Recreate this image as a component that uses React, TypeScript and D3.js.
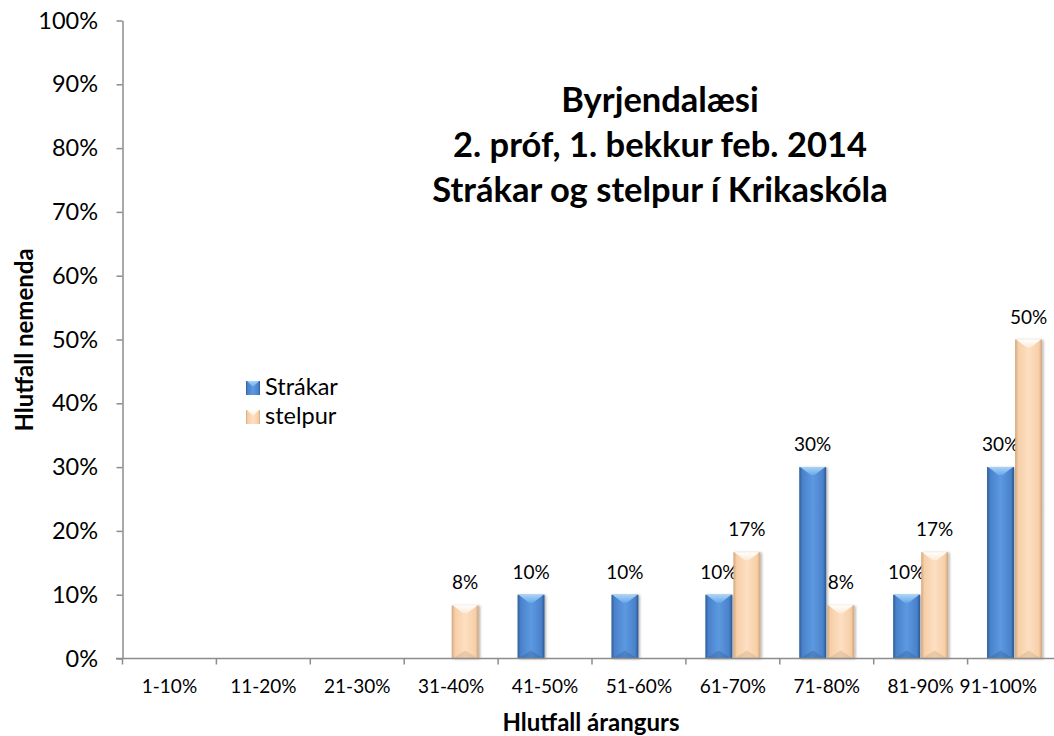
import React, { useEffect, useRef } from 'react';
import * as d3 from 'd3';

const categories = ['1-10%', '11-20%', '21-30%', '31-40%', '41-50%', '51-60%', '61-70%', '71-80%', '81-90%', '91-100%'];
const seriesNames = ['Strákar', 'stelpur'];
const strakar = [0, 0, 0, 0, 10, 10, 10, 30, 10, 30];
const stelpur = [0, 0, 0, 8.33, 0, 0, 16.67, 8.33, 16.67, 50];
const yTicks = [0, 10, 20, 30, 40, 50, 60, 70, 80, 90, 100];
const titleLines = ['Byrjendalæsi', '2. próf, 1. bekkur feb. 2014', 'Strákar og stelpur í Krikaskóla'];
const xTitle = 'Hlutfall árangurs';
const yTitle = 'Hlutfall nemenda';

const palette = {
    'Strákar': { stops: ['#2f5d97', '#4a82cb', '#5c99e0', '#4a82cb', '#2c5890'], top: ['#a6d3f8', '#6aa8ea'], bottom: '#24497a' },
    'stelpur': { stops: ['#d2a77e', '#f6cfa8', '#fddfc2', '#f6cfa8', '#cfa37a'], top: ['#ffffff', '#fde9d5'], bottom: '#b98b60' }
};

const font = 'Lato, "Open Sans", sans-serif';

const App = () => {
    const ref = useRef(null);

    useEffect(() => {
        const width = 1054;
        const height = 736;
        d3.select(ref.current).selectAll('*').remove();

        const svg = d3.select(ref.current)
            .append('svg')
            .attr('width', width)
            .attr('height', height)
            .style('position', 'absolute')
            .style('left', 0)
            .style('top', 0)
            .style('background', '#fff')
            .style('font-family', font);

        const defs = svg.append('defs');
        seriesNames.forEach((s, i) => {
            const p = palette[s];
            const g = defs.append('linearGradient').attr('id', `body${i}`).attr('x1', 0).attr('x2', 1).attr('y1', 0).attr('y2', 0);
            [0, 0.12, 0.5, 0.88, 1].forEach((o, k) => g.append('stop').attr('offset', o).attr('stop-color', p.stops[k]));
            const t = defs.append('linearGradient').attr('id', `top${i}`).attr('x1', 0).attr('x2', 0).attr('y1', 0).attr('y2', 1);
            t.append('stop').attr('offset', 0).attr('stop-color', p.top[0]);
            t.append('stop').attr('offset', 1).attr('stop-color', p.top[1]);
        });
        const shadow = defs.append('filter').attr('id', 'shadow').attr('x', '-20%').attr('y', '-5%').attr('width', '150%').attr('height', '115%');
        shadow.append('feDropShadow').attr('dx', 1.5).attr('dy', 0.5).attr('stdDeviation', 1).attr('flood-color', '#000').attr('flood-opacity', 0.3);

        // scales (plot runs past the right edge, as in the cropped original)
        const x = d3.scaleBand().domain(categories).range([122.5, 1061.5]).padding(0);
        const bw = x.bandwidth();
        const groupW = 55;
        const xInner = d3.scaleBand().domain(seriesNames).range([(bw - groupW) / 2, (bw + groupW) / 2]).paddingInner(0.04);
        const y = d3.scaleLinear().domain([0, 100]).range([658.5, 20.5]);

        // bars
        const seriesData = [strakar, stelpur];
        seriesNames.forEach((s, si) => {
            const vals = seriesData[si];
            categories.forEach((c, ci) => {
                const v = vals[ci];
                if (!v) return;
                const x0 = x(c) + xInner(s);
                const w = xInner.bandwidth();
                const y0 = y(v);
                const y1 = y(0);
                const g = svg.append('g');
                g.append('rect')
                    .attr('x', x0).attr('y', y0)
                    .attr('width', w).attr('height', y1 - y0)
                    .attr('fill', `url(#body${si})`)
                    .attr('filter', 'url(#shadow)');
                const bev = Math.min(8, (y1 - y0) / 2);
                g.append('path')
                    .attr('d', `M${x0 + 1},${y0} L${x0 + w - 1},${y0} L${x0 + w / 2 + 2},${y0 + bev} L${x0 + w / 2 - 2},${y0 + bev} Z`)
                    .attr('fill', `url(#top${si})`);
                g.append('path')
                    .attr('d', `M${x0 + 1},${y1} L${x0 + w - 1},${y1} L${x0 + w / 2},${y1 - bev} Z`)
                    .attr('fill', palette[s].bottom)
                    .attr('opacity', 0.25);

                svg.append('text')
                    .attr('x', x0 + w / 2)
                    .attr('y', y0 - 16)
                    .attr('text-anchor', 'middle')
                    .style('font-size', '19px')
                    .style('fill', '#000')
                    .text(`${Math.round(v)}%`);
            });
        });

        // y axis
        const yAxis = svg.append('g')
            .attr('transform', 'translate(122.5,0)')
            .call(d3.axisLeft(y)
                .tickValues(yTicks)
                .tickSize(6)
                .tickSizeOuter(0)
                .tickPadding(18.5)
                .tickFormat(d => `${d}%`));
        yAxis.select('.domain').attr('stroke', '#8c8c8c').attr('stroke-width', 1.5);
        yAxis.selectAll('.tick line').attr('stroke', '#8c8c8c').attr('stroke-width', 1.5);
        yAxis.selectAll('.tick text')
            .style('font-family', font)
            .style('font-size', '23.5px')
            .style('fill', '#000');

        // x axis
        svg.append('line')
            .attr('x1', 116).attr('x2', width)
            .attr('y1', y(0)).attr('y2', y(0))
            .attr('stroke', '#8c8c8c').attr('stroke-width', 1.5);
        categories.forEach((c, i) => {
            svg.append('line')
                .attr('x1', x(c)).attr('x2', x(c))
                .attr('y1', y(0)).attr('y2', y(0) + 6)
                .attr('stroke', '#8c8c8c').attr('stroke-width', 1.5);
            // last label is pulled in to stay inside the picture
            const last = i === categories.length - 1;
            svg.append('text')
                .attr('x', last ? 1037 : x(c) + bw / 2)
                .attr('y', 693)
                .attr('text-anchor', last ? 'end' : 'middle')
                .style('font-size', '19px')
                .style('fill', '#000')
                .text(c);
        });

        // axis titles
        svg.append('text')
            .attr('x', 591)
            .attr('y', 731)
            .attr('text-anchor', 'middle')
            .style('font-size', '24px')
            .style('font-weight', 'bold')
            .text(xTitle);

        svg.append('text')
            .attr('transform', 'translate(33,340) rotate(-90)')
            .attr('text-anchor', 'middle')
            .style('font-size', '24px')
            .style('font-weight', 'bold')
            .text(yTitle);

        // title
        titleLines.forEach((line, i) => {
            svg.append('text')
                .attr('x', 660)
                .attr('y', 112 + i * 45)
                .attr('text-anchor', 'middle')
                .style('font-size', '34.5px')
                .style('font-weight', 'bold')
                .text(line);
        });

        // legend
        seriesNames.forEach((s, i) => {
            const ly = 381 + i * 29;
            svg.append('rect')
                .attr('x', 246).attr('y', ly)
                .attr('width', 14).attr('height', 14)
                .attr('fill', `url(#body${i})`);
            svg.append('path')
                .attr('d', `M247,${ly} L259,${ly} L253,${ly + 6} Z`)
                .attr('fill', `url(#top${i})`);
            svg.append('text')
                .attr('x', 265)
                .attr('y', ly + 14)
                .style('font-size', '23.5px')
                .style('fill', '#000')
                .text(s);
        });
    }, []);

    return <div ref={ref}></div>;
};

export default App;
